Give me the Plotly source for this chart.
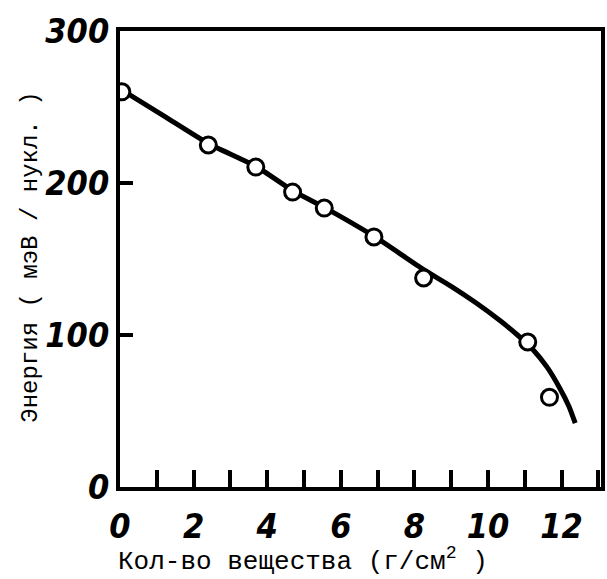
import plotly.graph_objects as go

# Measured points (open circles)
pts_x = [0.05, 2.40, 3.69, 4.69, 5.55, 6.90, 8.25, 11.08, 11.67]
pts_y = [260, 225, 210.5, 194, 183.5, 164.5, 137.5, 95.4, 59]

# Smooth fitted curve
curve_x = [0.0, 1.2, 2.40, 3.69, 4.69, 5.55, 6.90, 8.25, 9.0, 9.68, 10.35, 10.8, 11.2, 11.6, 11.95, 12.2, 12.37]
curve_y = [262, 244, 226, 211, 195, 184, 165, 143, 132, 121, 109, 100, 91, 79, 65, 53, 42]

x_tickvals = [0, 2, 4, 6, 8, 10, 12]
y_tickvals = [0, 100, 200, 300]

tick_font = dict(family="DejaVu Sans Condensed, Liberation Sans Narrow, DejaVu Sans",
                 size=34, color="black", weight="bold", style="italic")
xtitle_font = dict(family="Liberation Mono, DejaVu Sans Mono, monospace", size=26, color="black")
ytitle_font = dict(family="Liberation Mono, DejaVu Sans Mono, monospace", size=24, color="black")

fig = go.Figure()
fig.add_trace(go.Scatter(x=curve_x, y=curve_y, mode="lines",
                         line=dict(color="black", width=5, shape="spline", smoothing=0.6),
                         showlegend=False, hoverinfo="skip"))
fig.add_trace(go.Scatter(x=pts_x, y=pts_y, mode="markers",
                         marker=dict(symbol="circle", size=16, color="white",
                                     line=dict(color="black", width=3)),
                         showlegend=False))

fig.update_layout(
    width=607, height=579,
    margin=dict(l=120, r=2, t=31, b=92),
    paper_bgcolor="white", plot_bgcolor="white",
    xaxis=dict(range=[0, 13.07], tickmode="array", tickvals=x_tickvals,
               ticktext=[str(v) for v in x_tickvals],
               showgrid=False, zeroline=False,
               showline=True, linewidth=4, linecolor="black", mirror=True,
               ticks="inside", ticklen=17, tickwidth=4, tickcolor="black",
               minor=dict(tickmode="linear", tick0=0, dtick=1, ticks="inside",
                          ticklen=17, tickwidth=4, tickcolor="black", showgrid=False),
               tickfont=tick_font, ticklabelstandoff=6),
    yaxis=dict(range=[0, 300], tickmode="array", tickvals=y_tickvals,
               ticktext=[str(v) for v in y_tickvals],
               showgrid=False, zeroline=False,
               showline=True, linewidth=4, linecolor="black", mirror=True,
               ticks="inside", ticklen=13, tickwidth=4, tickcolor="black",
               tickfont=tick_font, ticklabelstandoff=0),
    annotations=[
        dict(text="Кол-во вещества (г/см<sup>2</sup> )", xref="paper", yref="paper",
             x=0.381, y=-0.16, showarrow=False, font=xtitle_font,
             xanchor="center", yanchor="middle"),
        dict(text="Энергия ( мэВ / нукл. )", xref="paper", yref="paper",
             x=-0.186, y=0.504, showarrow=False, font=ytitle_font, textangle=-90,
             xanchor="center", yanchor="middle"),
    ],
)

fig.write_html("out.html")
